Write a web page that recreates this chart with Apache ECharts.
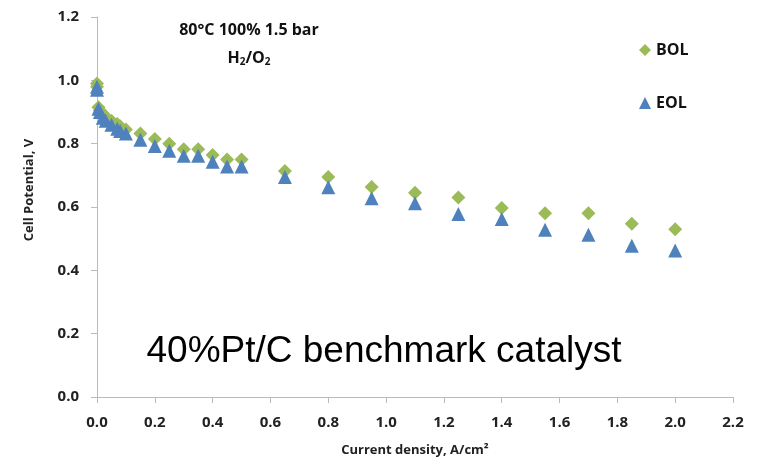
<!DOCTYPE html>
<html><head><meta charset="utf-8">
<script src="https://cdn.jsdelivr.net/npm/echarts@6/dist/echarts.min.js"></script>
<style>html,body{margin:0;padding:0;background:#fff}#c{width:759px;height:463px}</style>
</head><body><div id="c"></div>
<script>
const currentDensity = [0, 0, 0.005, 0.01, 0.02, 0.03, 0.05, 0.07, 0.08, 0.1, 0.15, 0.2, 0.25, 0.3, 0.35, 0.4, 0.45, 0.5, 0.65, 0.8, 0.95, 1.1, 1.25, 1.4, 1.55, 1.7, 1.85, 2.0];
const bolValues = [0.99, 0.98, 0.915, 0.905, 0.895, 0.885, 0.872, 0.862, 0.855, 0.845, 0.832, 0.815, 0.8, 0.782, 0.782, 0.764, 0.75, 0.75, 0.714, 0.695, 0.663, 0.645, 0.63, 0.597, 0.58, 0.58, 0.547, 0.53];
const eolValues = [0.98, 0.97, 0.91, 0.9, 0.882, 0.872, 0.86, 0.847, 0.84, 0.832, 0.812, 0.793, 0.778, 0.762, 0.762, 0.743, 0.728, 0.728, 0.695, 0.662, 0.628, 0.612, 0.578, 0.562, 0.528, 0.512, 0.478, 0.463];
const xTicks = [0, 0.2, 0.4, 0.6, 0.8, 1.0, 1.2, 1.4, 1.6, 1.8, 2.0, 2.2];
const yTicks = [0, 0.2, 0.4, 0.6, 0.8, 1.0, 1.2];

const bolData = currentDensity.map((x, i) => [x, bolValues[i]]);
const eolData = currentDensity.map((x, i) => [x, eolValues[i]]);
const font = '"Open Sans", "DejaVu Sans", sans-serif';

const chart = echarts.init(document.getElementById('c'));
chart.setOption({
  animation: false,
  grid: { left: 97, right: 26, top: 17, bottom: 66 },
  xAxis: {
    type: 'value', min: xTicks[0], max: xTicks[xTicks.length - 1], interval: 0.2,
    name: 'Current density, A/cm²', nameLocation: 'middle', nameGap: 47,
    nameTextStyle: { fontFamily: font, fontWeight: 'bold', fontSize: 13, color: '#222' },
    axisLine: { lineStyle: { color: '#bbb' } },
    axisTick: { show: true, length: 6, lineStyle: { color: '#bbb' } },
    axisLabel: { fontFamily: font, fontWeight: 'bold', fontSize: 15, color: '#222', margin: 18, formatter: v => v.toFixed(1) },
    splitLine: { show: false }
  },
  yAxis: {
    type: 'value', min: yTicks[0], max: yTicks[yTicks.length - 1], interval: 0.2,
    axisLine: { show: true, lineStyle: { color: '#bbb' } },
    axisTick: { show: true, length: 6, lineStyle: { color: '#bbb' } },
    axisLabel: { fontFamily: font, fontWeight: 'bold', fontSize: 15, color: '#222', margin: 18, formatter: v => v.toFixed(1) },
    splitLine: { show: false }
  },
  legend: {
    orient: 'vertical', left: 634, top: 37, itemGap: 37, itemWidth: 12, itemHeight: 12,
    textStyle: { fontFamily: font, fontWeight: 'bold', fontSize: 16, color: '#111' },
    data: [{ name: 'BOL', icon: 'diamond' }, { name: 'EOL', icon: 'triangle' }]
  },
  graphic: [
    { type: 'text', x: 29, y: 190, rotation: Math.PI / 2, style: { text: 'Cell Potential, V', font: 'bold 13px ' + font, fill: '#222', align: 'center', verticalAlign: 'middle' } },
    { type: 'text', x: 249, y: 30, style: { text: '80°C 100% 1.5 bar', font: 'bold 16px ' + font, fill: '#111', align: 'center', verticalAlign: 'middle' } },
    { type: 'text', x: 249, y: 58, style: {
        text: '{n|H}{s|2}{n|/O}{s|2}', align: 'center', verticalAlign: 'middle',
        rich: { n: { font: 'bold 16px ' + font, fill: '#111' }, s: { font: 'bold 10px ' + font, fill: '#111', padding: [9, 0, 0, 0] } } } },
    { type: 'text', x: 384, y: 352, style: { text: '40%Pt/C benchmark catalyst', font: '37px "Liberation Sans", Arial, sans-serif', fill: '#000', align: 'center', verticalAlign: 'middle' } }
  ],
  series: [
    { name: 'BOL', type: 'scatter', symbol: 'diamond', symbolSize: 14, data: bolData, itemStyle: { color: '#9BBB59', opacity: 1 } },
    { name: 'EOL', type: 'scatter', symbol: 'triangle', symbolSize: 14, data: eolData, itemStyle: { color: '#4F81BD', opacity: 1 } }
  ]
});
</script></body></html>
